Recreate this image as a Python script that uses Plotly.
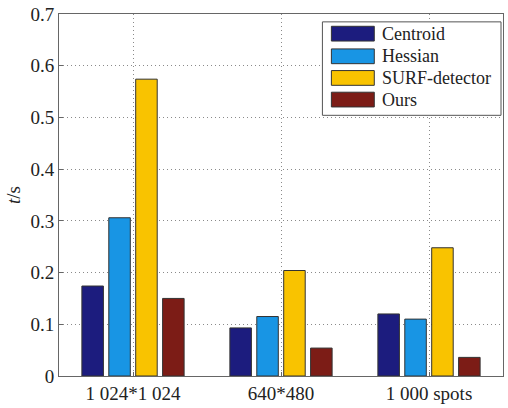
import plotly.graph_objects as go

categories = ["1 024*1 024", "640*480", "1 000 spots"]
series_names = ["Centroid", "Hessian", "SURF-detector", "Ours"]
centroid = [0.174, 0.093, 0.120]
hessian = [0.306, 0.115, 0.110]
surf = [0.574, 0.204, 0.248]
ours = [0.150, 0.054, 0.036]
series_values = [centroid, hessian, surf, ours]
colors = ["#1c1c7e", "#1895e4", "#f9c300", "#7c1c16"]
y_ticks = [0, 0.1, 0.2, 0.3, 0.4, 0.5, 0.6, 0.7]
y_tick_text = ["0", "0.1", "0.2", "0.3", "0.4", "0.5", "0.6", "0.7"]

FONT = "Liberation Serif, Times New Roman, serif"
W, H = 508, 408
L, R, T, B = 59, 4, 14, 26
pw, ph = W - L - R, H - T - B

fig = go.Figure()
for name, vals, col in zip(series_names, series_values, colors):
    fig.add_trace(go.Bar(x=categories, y=vals, name=name,
                         marker=dict(color=col, line=dict(color="#333333", width=1)),
                         showlegend=False))

fig.update_layout(
    width=W, height=H,
    margin=dict(l=L, r=R, t=T, b=B),
    paper_bgcolor="white", plot_bgcolor="white",
    barmode="group", bargap=0.273, bargroupgap=0.2,
    font=dict(family=FONT, size=18, color="#222222"),
)
fig.update_xaxes(type="category", range=[-0.5, 2.5],
                 showline=True, mirror=True, linecolor="#666666", linewidth=1,
                 showgrid=True, gridcolor="#8a8a8a", griddash="1px,3px", gridwidth=1,
                 ticks="inside", ticklen=4, tickcolor="#666666",
                 tickfont=dict(family=FONT, size=19, color="#222222"))
fig.update_yaxes(range=[0, 0.7], tickvals=y_ticks, ticktext=y_tick_text,
                 showline=True, mirror=True, linecolor="#666666", linewidth=1,
                 showgrid=True, gridcolor="#8a8a8a", griddash="1px,3px", gridwidth=1,
                 zeroline=False,
                 ticks="inside", ticklen=4, tickcolor="#666666",
                 tickfont=dict(family=FONT, size=19, color="#222222"))

# y-axis title
fig.add_annotation(text="<i>t</i>/s", xref="paper", yref="paper",
                   x=(13 - L) / pw, y=(382 - 198) / ph, textangle=-90,
                   showarrow=False, font=dict(family=FONT, size=19, color="#222222"),
                   xanchor="center", yanchor="middle")

def px(x):
    return (x - L) / pw

def py(y):
    return (T + ph - y) / ph

# legend box
fig.add_shape(type="rect", xref="paper", yref="paper",
              x0=px(323), x1=px(502), y0=py(117), y1=py(22),
              line=dict(color="#555555", width=1), fillcolor="white", layer="above")
row_y = [34, 57, 79, 101]
for name, col, ry in zip(series_names, colors, row_y):
    fig.add_shape(type="rect", xref="paper", yref="paper",
                  x0=px(332), x1=px(375), y0=py(ry + 7.5), y1=py(ry - 7.5),
                  line=dict(color="#333333", width=1), fillcolor=col, layer="above")
    fig.add_annotation(text=name, xref="paper", yref="paper",
                       x=px(381), y=py(ry), xanchor="left", yanchor="middle",
                       showarrow=False, font=dict(family=FONT, size=18, color="#222222"))

fig.write_html("out.html", config={"displayModeBar": False},
               post_script="document.body.style.margin='0';document.body.style.overflow='hidden';")
